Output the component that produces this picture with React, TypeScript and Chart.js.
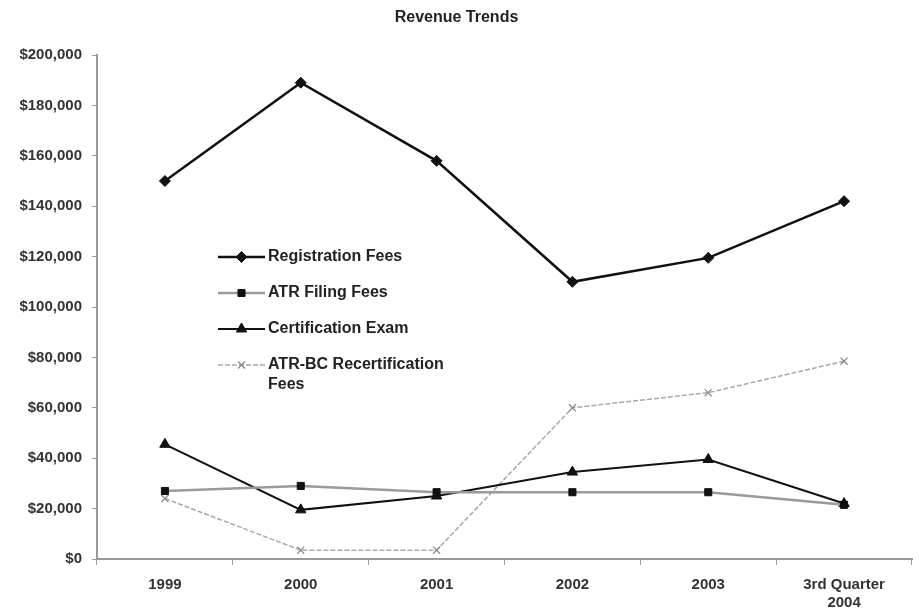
import React, { useEffect, useRef } from "react";
import { Chart, registerables } from "chart.js";
import { drawPoint } from "chart.js/helpers";

Chart.register(...registerables);

const categories: (string | string[])[] = ["1999", "2000", "2001", "2002", "2003", ["3rd Quarter", "2004"]];
const registrationFees = [150000, 189000, 158000, 110000, 119500, 142000];
const atrFilingFees = [27000, 29000, 26500, 26500, 26500, 21500];
const certificationExam = [45500, 19500, 25000, 34500, 39500, 22000];
const atrBcRecertFees = [24000, 3500, 3500, 60000, 66000, 78500];
const seriesLabels = ["Registration Fees", "ATR Filing Fees", "Certification Exam", "ATR-BC Recertification Fees"];
const legendLines = [["Registration Fees"], ["ATR Filing Fees"], ["Certification Exam"], ["ATR-BC Recertification", "Fees"]];
const yTickStep = 20000;
const yMax = 200000;

const FONT = "'Liberation Sans', Arial, sans-serif";

const insideLegend = {
  id: "insideLegend",
  afterDatasetsDraw(chart: any) {
    const ctx = chart.ctx as CanvasRenderingContext2D;
    const x0 = 218;
    const x1 = 265;
    const tx = 268;
    const y0 = 257;
    const gap = 36;
    ctx.save();
    chart.data.datasets.forEach((ds: any, i: number) => {
      const y = y0 + i * gap;
      ctx.beginPath();
      ctx.setLineDash(ds.borderDash || []);
      ctx.strokeStyle = ds.borderColor;
      ctx.lineWidth = ds.borderWidth;
      ctx.moveTo(x0, y);
      ctx.lineTo(x1, y);
      ctx.stroke();
      ctx.setLineDash([]);
      ctx.fillStyle = ds.pointBackgroundColor;
      ctx.strokeStyle = ds.pointBorderColor;
      ctx.lineWidth = ds.pointBorderWidth;
      drawPoint(ctx, { pointStyle: ds.pointStyle, radius: ds.pointRadius, rotation: 0, borderWidth: ds.pointBorderWidth }, (x0 + x1) / 2, y);
      ctx.fillStyle = "#222";
      ctx.font = "bold 16px " + FONT;
      ctx.textBaseline = "middle";
      ctx.textAlign = "left";
      legendLines[i].forEach((line, j) => {
        ctx.fillText(line, tx, y + j * 20);
      });
    });
    ctx.restore();
  },
};

export default function App() {
  const ref = useRef<HTMLCanvasElement | null>(null);
  useEffect(() => {
    document.body.style.margin = "0";
    if (!ref.current) return;
    const chart = new Chart(ref.current, {
      type: "line",
      data: {
        labels: categories as any,
        datasets: [
          {
            label: seriesLabels[0],
            data: registrationFees,
            borderColor: "#111",
            borderWidth: 2.5,
            pointStyle: "rectRot",
            pointRadius: 5.5,
            pointBackgroundColor: "#111",
            pointBorderColor: "#111",
            pointBorderWidth: 1,
            tension: 0,
          },
          {
            label: seriesLabels[1],
            data: atrFilingFees,
            borderColor: "#9a9a9a",
            borderWidth: 2.5,
            pointStyle: "rect",
            pointRadius: 5,
            pointBackgroundColor: "#111",
            pointBorderColor: "#111",
            pointBorderWidth: 1,
            tension: 0,
          },
          {
            label: seriesLabels[2],
            data: certificationExam,
            borderColor: "#111",
            borderWidth: 2,
            pointStyle: "triangle",
            pointRadius: 6,
            pointBackgroundColor: "#111",
            pointBorderColor: "#111",
            pointBorderWidth: 1,
            tension: 0,
          },
          {
            label: seriesLabels[3],
            data: atrBcRecertFees,
            borderColor: "#a8a8a8",
            borderWidth: 1.5,
            borderDash: [5, 2],
            pointStyle: "crossRot",
            pointRadius: 5,
            pointBackgroundColor: "#888",
            pointBorderColor: "#888",
            pointBorderWidth: 1.2,
            tension: 0,
          },
        ],
      },
      options: {
        animation: false,
        responsive: true,
        maintainAspectRatio: false,
        layout: { padding: { top: 0, right: 6, bottom: 0, left: 0 } },
        plugins: {
          legend: { display: false },
          tooltip: { enabled: false },
          title: {
            display: true,
            text: "Revenue Trends",
            color: "#222",
            font: { family: FONT, size: 16, weight: "bold", lineHeight: 1.2 },
            padding: { top: 8, bottom: 27.8 },
          },
        },
        scales: {
          x: {
            offset: true,
            grid: { offset: true, drawOnChartArea: false, drawTicks: true, tickLength: 6, color: "#999", lineWidth: 1 },
            border: { color: "#999", width: 2 },
            ticks: {
              color: "#333",
              font: { family: FONT, size: 15, weight: "bold", lineHeight: 1.25 },
              padding: 10,
              maxRotation: 0,
              autoSkip: false,
            },
            afterFit: (s: any) => {
              s.height = 55;
            },
          },
          y: {
            min: 0,
            max: yMax,
            grid: { drawOnChartArea: false, drawTicks: true, tickLength: 5, color: "#999" },
            border: { color: "#999", width: 2 },
            ticks: {
              stepSize: yTickStep,
              color: "#333",
              font: { family: FONT, size: 15, weight: "bold" },
              padding: 10,
              callback: (v: any) => "$" + Number(v).toLocaleString("en-US"),
            },
            afterFit: (s: any) => {
              s.width = 97;
            },
          },
        },
      },
      plugins: [insideLegend],
    });
    return () => chart.destroy();
  }, []);
  return (
    <div style={{ position: "relative", width: 919, height: 614 }}>
      <canvas ref={ref} />
    </div>
  );
}
